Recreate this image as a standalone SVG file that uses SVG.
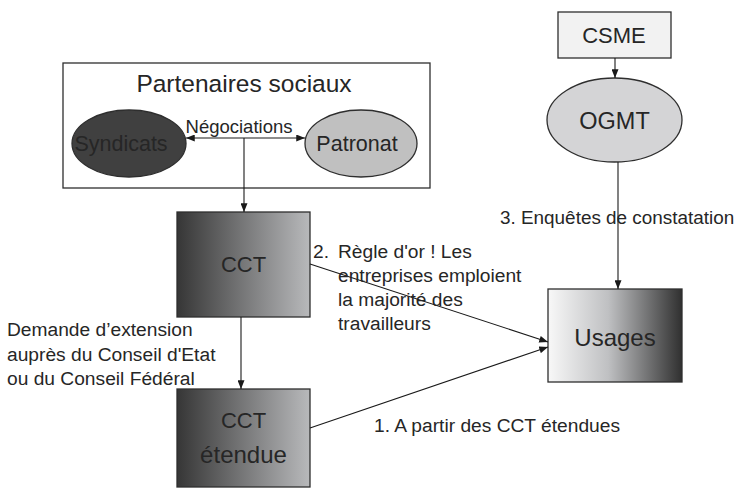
<svg xmlns="http://www.w3.org/2000/svg" width="738" height="491" viewBox="0 0 738 491">
  <style>
    text { font-family: "Liberation Sans", Arial, sans-serif; fill: #262626; }
    .box { stroke: #2e2e2e; stroke-width: 1.3; }
    .conn { stroke: #1a1a1a; stroke-width: 1.1; fill: none; }
    .lbl { font-size: 19.2px; }
  </style>
  <defs>
    <linearGradient id="gDark" x1="0" y1="0" x2="1" y2="0">
      <stop offset="0" stop-color="#363636"/>
      <stop offset="1" stop-color="#b8b9bb"/>
    </linearGradient>
    <linearGradient id="gLight" x1="0" y1="0" x2="1" y2="0">
      <stop offset="0" stop-color="#f8f8f8"/>
      <stop offset="0.45" stop-color="#bfc0c2"/>
      <stop offset="1" stop-color="#303030"/>
    </linearGradient>
    <marker id="arr" viewBox="0 0 10 8" refX="10" refY="4" markerWidth="9" markerHeight="7" markerUnits="userSpaceOnUse" orient="auto-start-reverse">
      <path d="M0,0 L10,4 L0,8 z" fill="#1a1a1a"/>
    </marker>
  </defs>

  <g id="partenaires">
    <rect class="box" x="63" y="63" width="367" height="125" fill="#ffffff"/>
    <text x="244" y="92" font-size="24.5" text-anchor="middle">Partenaires sociaux</text>
  </g>
  <g id="syndicats">
    <ellipse class="box" cx="129" cy="143.5" rx="57" ry="33.5" fill="#404040"/>
    <text x="121" y="151" font-size="21.5" text-anchor="middle">Syndicats</text>
  </g>
  <g id="patronat">
    <ellipse class="box" cx="361" cy="143.5" rx="56" ry="33.5" fill="#c0c0c0"/>
    <text x="357" y="151" font-size="21.5" text-anchor="middle">Patronat</text>
  </g>
  <g id="cct">
    <rect class="box" x="177" y="212" width="133" height="105" fill="url(#gDark)"/>
    <text x="243.5" y="272" font-size="22" text-anchor="middle">CCT</text>
  </g>
  <g id="cct-etendue">
    <rect class="box" x="177" y="389" width="133" height="98" fill="url(#gDark)"/>
    <text x="243.5" y="428" font-size="22" text-anchor="middle">CCT</text>
    <text x="243.5" y="463" font-size="24" text-anchor="middle">étendue</text>
  </g>
  <g id="csme">
    <rect class="box" x="558" y="12" width="113" height="46" fill="#f2f2f2"/>
    <text x="614" y="43" font-size="22" text-anchor="middle">CSME</text>
  </g>
  <g id="ogmt">
    <ellipse class="box" cx="614.5" cy="120" rx="67.5" ry="42" fill="#d4d4d6"/>
    <text x="614.5" y="129" font-size="23.5" text-anchor="middle">OGMT</text>
  </g>
  <g id="usages">
    <rect class="box" x="548" y="289" width="134" height="93" fill="url(#gLight)"/>
    <text x="615" y="346" font-size="24" text-anchor="middle">Usages</text>
  </g>

  <g id="connectors">
    <line class="conn" x1="186" y1="138" x2="305" y2="138" marker-start="url(#arr)" marker-end="url(#arr)"/>
    <line class="conn" x1="244" y1="138" x2="244" y2="212" marker-end="url(#arr)"/>
    <line class="conn" x1="241" y1="317" x2="241" y2="389" marker-end="url(#arr)"/>
    <line class="conn" x1="310" y1="264" x2="548" y2="342" marker-end="url(#arr)"/>
    <line class="conn" x1="310" y1="428" x2="548" y2="347" marker-end="url(#arr)"/>
    <line class="conn" x1="615" y1="58" x2="615" y2="78" marker-end="url(#arr)"/>
    <line class="conn" x1="618" y1="162" x2="618" y2="289" marker-end="url(#arr)"/>
  </g>

  <g id="labels">
    <text x="239" y="133" font-size="18.5" text-anchor="middle">Négociations</text>
    <text class="lbl" x="313" y="258">2.</text>
    <text class="lbl" x="338" y="258">Règle d'or ! Les</text>
    <text class="lbl" x="338" y="282">entreprises emploient</text>
    <text class="lbl" x="338" y="306">la majorité des</text>
    <text class="lbl" x="338" y="330">travailleurs</text>
    <text x="500" y="224" font-size="18.9">3. Enquêtes de constatation</text>
    <text class="lbl" x="7" y="336">Demande d’extension</text>
    <text class="lbl" x="7" y="360.5">auprès du Conseil d'Etat</text>
    <text class="lbl" x="7" y="385">ou du Conseil Fédéral</text>
    <text class="lbl" x="374" y="432">1. A partir des CCT étendues</text>
  </g>
</svg>
